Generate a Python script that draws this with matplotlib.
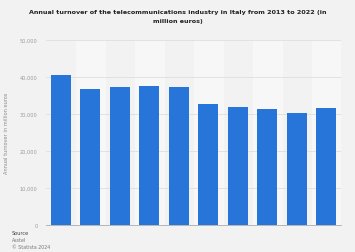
import matplotlib.pyplot as plt

years = ['2013', '2014', '2015', '2016', '2017', '2018', '2019', '2020', '2021', '2022']
turnover = [40500, 36800, 37200, 37600, 37200, 32700, 31900, 31350, 30300, 31600]
yticks = [0, 10000, 20000, 30000, 40000, 50000]

bg = '#f2f2f2'
fig = plt.figure(figsize=(3.55, 2.53), dpi=100, facecolor=bg)
ax = fig.add_axes([0.1296, 0.1067, 0.831, 0.7313])
ax.set_facecolor(bg)

x = range(len(years))
# alternating column bands
for i in x:
    if i % 2 == 1:
        ax.axvspan(i - 0.5, i + 0.5, color='#f7f7f7', zorder=0)

ax.bar(x, turnover, width=0.68, color='#2775d9', zorder=3)

ax.set_xlim(-0.5, len(years) - 0.5)
ax.set_ylim(0, 50000)
ax.set_yticks(yticks)
ax.set_yticklabels([f'{v:,}' for v in yticks], fontsize=3.6, color='#9a9a9a')
ax.set_xticks([])
ax.grid(axis='y', color='#dedede', linewidth=0.6, zorder=1)
ax.tick_params(axis='y', length=0, pad=6)
for s in ['top', 'right', 'left']:
    ax.spines[s].set_visible(False)
ax.spines['bottom'].set_color('#b5b5b5')
ax.spines['bottom'].set_linewidth(0.7)
ax.spines['bottom'].set_zorder(4)

ax.set_ylabel('Annual turnover in million euros', fontsize=3.6, color='#8a8a8a', labelpad=8)

fig.text(0.5, 0.96, 'Annual turnover of the telecommunications industry in Italy from 2013 to 2022 (in\nmillion euros)',
         ha='center', va='top', fontsize=4.6, fontweight='bold', color='#222222', linespacing=2.0)

fig.text(0.033, 0.085, 'Source', fontsize=3.6, color='#444444', va='top')
fig.text(0.033, 0.058, 'Asstel', fontsize=3.4, color='#777777', va='top')
fig.text(0.033, 0.031, '© Statista 2024', fontsize=3.4, color='#777777', va='top')

fig.savefig('out.png', dpi=100, facecolor=bg)
